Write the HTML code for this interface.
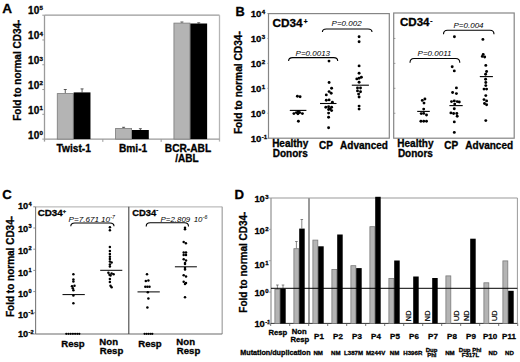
<!DOCTYPE html>
<html><head><meta charset="utf-8"><style>
html,body{margin:0;padding:0;background:#fff;}
svg{display:block;}
text{font-family:"Liberation Sans", sans-serif;}
text[font-weight="bold"]{stroke:#000;stroke-width:0.3px;}
</style></head><body>
<svg width="520" height="362" viewBox="0 0 520 362">
<rect width="520" height="362" fill="#fff"/>
<text x="2.3" y="12.5" font-size="13.6" font-weight="bold" font-style="normal" text-anchor="start" fill="#000" >A</text>
<text transform="translate(21.2,70.2) rotate(-90)" x="0" y="0" font-size="10" font-weight="bold" text-anchor="middle">Fold to normal CD34-</text>
<text x="28.1" y="138.5" font-size="10" font-weight="bold" text-anchor="start">10<tspan font-size="6.2" dx="0.3" dy="-3.6">0</tspan></text>
<line x1="42.30" y1="139.10" x2="44.50" y2="139.10" stroke="#9a9a9a" stroke-width="1"/>
<text x="28.1" y="113.72" font-size="10" font-weight="bold" text-anchor="start">10<tspan font-size="6.2" dx="0.3" dy="-3.6">1</tspan></text>
<line x1="42.30" y1="114.32" x2="44.50" y2="114.32" stroke="#9a9a9a" stroke-width="1"/>
<text x="28.1" y="88.94" font-size="10" font-weight="bold" text-anchor="start">10<tspan font-size="6.2" dx="0.3" dy="-3.6">2</tspan></text>
<line x1="42.30" y1="89.54" x2="44.50" y2="89.54" stroke="#9a9a9a" stroke-width="1"/>
<text x="28.1" y="64.16000000000001" font-size="10" font-weight="bold" text-anchor="start">10<tspan font-size="6.2" dx="0.3" dy="-3.6">3</tspan></text>
<line x1="42.30" y1="64.76" x2="44.50" y2="64.76" stroke="#9a9a9a" stroke-width="1"/>
<text x="28.1" y="39.38" font-size="10" font-weight="bold" text-anchor="start">10<tspan font-size="6.2" dx="0.3" dy="-3.6">4</tspan></text>
<line x1="42.30" y1="39.98" x2="44.50" y2="39.98" stroke="#9a9a9a" stroke-width="1"/>
<text x="28.1" y="13.8" font-size="10" font-weight="bold" text-anchor="start">10<tspan font-size="6.2" dx="0.3" dy="-3.6">5</tspan></text>
<line x1="42.30" y1="15.20" x2="44.50" y2="15.20" stroke="#9a9a9a" stroke-width="1"/>
<line x1="44.50" y1="15.20" x2="219.50" y2="15.20" stroke="#9a9a9a" stroke-width="1.3"/>
<line x1="44.50" y1="15.20" x2="44.50" y2="141.60" stroke="#9a9a9a" stroke-width="1.3"/>
<line x1="219.50" y1="15.20" x2="219.50" y2="141.60" stroke="#b5b5b5" stroke-width="1.3"/>
<line x1="44.50" y1="139.10" x2="219.50" y2="139.10" stroke="#9a9a9a" stroke-width="1.3"/>
<line x1="102.83" y1="139.10" x2="102.83" y2="141.90" stroke="#9a9a9a" stroke-width="1"/>
<line x1="161.17" y1="139.10" x2="161.17" y2="141.90" stroke="#9a9a9a" stroke-width="1"/>
<line x1="65.27" y1="93.20" x2="65.27" y2="89.50" stroke="#333" stroke-width="0.8"/>
<line x1="63.77" y1="89.50" x2="66.77" y2="89.50" stroke="#333" stroke-width="0.8"/>
<line x1="82.07" y1="92.40" x2="82.07" y2="88.90" stroke="#333" stroke-width="0.8"/>
<line x1="80.57" y1="88.90" x2="83.57" y2="88.90" stroke="#333" stroke-width="0.8"/>
<rect x="57.27" y="93.60" width="16.00" height="45.50" fill="#b4b4b4" stroke="#7a7a7a" stroke-width="0.8"/>
<rect x="73.67" y="92.40" width="16.80" height="46.70" fill="#000"/>
<line x1="123.60" y1="128.00" x2="123.60" y2="127.30" stroke="#333" stroke-width="0.8"/>
<line x1="122.10" y1="127.30" x2="125.10" y2="127.30" stroke="#333" stroke-width="0.8"/>
<line x1="140.40" y1="130.00" x2="140.40" y2="128.70" stroke="#333" stroke-width="0.8"/>
<line x1="138.90" y1="128.70" x2="141.90" y2="128.70" stroke="#333" stroke-width="0.8"/>
<rect x="115.60" y="128.40" width="16.00" height="10.70" fill="#b4b4b4" stroke="#7a7a7a" stroke-width="0.8"/>
<rect x="132.00" y="130.00" width="16.80" height="9.10" fill="#000"/>
<line x1="181.93" y1="22.70" x2="181.93" y2="22.00" stroke="#333" stroke-width="0.8"/>
<line x1="180.43" y1="22.00" x2="183.43" y2="22.00" stroke="#333" stroke-width="0.8"/>
<line x1="198.73" y1="23.50" x2="198.73" y2="22.80" stroke="#333" stroke-width="0.8"/>
<line x1="197.23" y1="22.80" x2="200.23" y2="22.80" stroke="#333" stroke-width="0.8"/>
<rect x="173.93" y="23.10" width="16.00" height="116.00" fill="#b4b4b4" stroke="#7a7a7a" stroke-width="0.8"/>
<rect x="190.33" y="23.50" width="16.80" height="115.60" fill="#000"/>
<text x="73.7" y="152.1" font-size="10.2" font-weight="bold" font-style="normal" text-anchor="middle" fill="#000" >Twist-1</text>
<text x="133.1" y="152.1" font-size="10.2" font-weight="bold" font-style="normal" text-anchor="middle" fill="#000" >Bmi-1</text>
<text x="188.0" y="152.0" font-size="10.2" font-weight="bold" font-style="normal" text-anchor="middle" fill="#000" >BCR-ABL</text>
<text x="187.0" y="161.6" font-size="10.0" font-weight="bold" font-style="normal" text-anchor="middle" fill="#000" >/ABL</text>
<text x="235.4" y="15.8" font-size="12.8" font-weight="bold" font-style="normal" text-anchor="start" fill="#000" >B</text>
<text transform="translate(242.3,82.6) rotate(-90)" x="0" y="0" font-size="10.2" font-weight="bold" text-anchor="middle">Fold to normal CD34-</text>
<text x="250.7" y="17.2" font-size="9.6" font-weight="bold" text-anchor="start">10<tspan font-size="6.1" dx="0.3" dy="-3.3">4</tspan></text>
<line x1="267.30" y1="13.50" x2="268.50" y2="13.50" stroke="#858585" stroke-width="0.7"/>
<text x="250.7" y="42.14" font-size="9.6" font-weight="bold" text-anchor="start">10<tspan font-size="6.1" dx="0.3" dy="-3.3">3</tspan></text>
<line x1="267.30" y1="38.44" x2="268.50" y2="38.44" stroke="#858585" stroke-width="0.7"/>
<text x="250.7" y="67.08" font-size="9.6" font-weight="bold" text-anchor="start">10<tspan font-size="6.1" dx="0.3" dy="-3.3">2</tspan></text>
<line x1="267.30" y1="63.38" x2="268.50" y2="63.38" stroke="#858585" stroke-width="0.7"/>
<text x="250.7" y="92.02" font-size="9.6" font-weight="bold" text-anchor="start">10<tspan font-size="6.1" dx="0.3" dy="-3.3">1</tspan></text>
<line x1="267.30" y1="88.32" x2="268.50" y2="88.32" stroke="#858585" stroke-width="0.7"/>
<text x="250.7" y="116.96" font-size="9.6" font-weight="bold" text-anchor="start">10<tspan font-size="6.1" dx="0.3" dy="-3.3">0</tspan></text>
<line x1="267.30" y1="113.26" x2="268.50" y2="113.26" stroke="#858585" stroke-width="0.7"/>
<text x="250.7" y="141.89999999999998" font-size="9.6" font-weight="bold" text-anchor="start">10<tspan font-size="6.1" dx="0.3" dy="-3.3">-1</tspan></text>
<line x1="267.30" y1="138.20" x2="268.50" y2="138.20" stroke="#858585" stroke-width="0.7"/>
<rect x="268.50" y="13.60" width="120.80" height="124.60" fill="none" stroke="#858585" stroke-width="1.2"/>
<rect x="393.70" y="13.00" width="120.50" height="125.20" fill="none" stroke="#858585" stroke-width="1.2"/>
<line x1="393.70" y1="38.44" x2="395.40" y2="38.44" stroke="#858585" stroke-width="0.8"/>
<line x1="393.70" y1="63.38" x2="395.40" y2="63.38" stroke="#858585" stroke-width="0.8"/>
<line x1="393.70" y1="88.32" x2="395.40" y2="88.32" stroke="#858585" stroke-width="0.8"/>
<line x1="393.70" y1="113.26" x2="395.40" y2="113.26" stroke="#858585" stroke-width="0.8"/>
<text x="272.5" y="27.2" font-size="11.8" font-weight="bold">CD34<tspan font-size="6.5" dx="1" dy="-3.2">+</tspan></text>
<text x="399.9" y="25.5" font-size="11.6" font-weight="bold">CD34<tspan font-size="6.5" dx="0.6" dy="-3.0">-</tspan></text>
<text x="331.6" y="25.9" font-size="8.0" font-weight="normal" font-style="italic" text-anchor="start" fill="#000" >P=0.002</text>
<path d="M322.4,32.0 Q322.4,29.0 326.4,29.0 L368.0,29.0 Q372.0,29.0 372.0,32.0" fill="none" stroke="#000" stroke-width="1.1"/>
<text x="295.6" y="56.0" font-size="8.0" font-weight="normal" font-style="italic" text-anchor="start" fill="#000" >P=0.0013</text>
<path d="M288.6,61.0 Q288.6,57.6 292.6,57.6 L333.7,57.6 Q337.7,57.6 337.7,61.0" fill="none" stroke="#000" stroke-width="1.1"/>
<text x="453.5" y="27.5" font-size="8.0" font-weight="normal" font-style="italic" text-anchor="start" fill="#000" >P=0.004</text>
<path d="M443.5,34.2 Q443.5,30.2 447.5,30.2 L490.0,30.2 Q494.0,30.2 494.0,34.2" fill="none" stroke="#000" stroke-width="1.1"/>
<text x="417.6" y="55.7" font-size="8.0" font-weight="normal" font-style="italic" text-anchor="start" fill="#000" >P=0.0011</text>
<path d="M410.0,62.7 Q410.0,58.5 414.0,58.5 L455.8,58.5 Q459.8,58.5 459.8,62.7" fill="none" stroke="#000" stroke-width="1.1"/>
<text x="290.2" y="146.6" font-size="10" font-weight="bold" font-style="normal" text-anchor="middle" fill="#000" >Healthy</text>
<text x="290.2" y="156.5" font-size="10" font-weight="bold" font-style="normal" text-anchor="middle" fill="#000" >Donors</text>
<text x="326.0" y="149.3" font-size="10" font-weight="bold" font-style="normal" text-anchor="middle" fill="#000" >CP</text>
<text x="364.0" y="149.3" font-size="10" font-weight="bold" font-style="normal" text-anchor="middle" fill="#000" >Advanced</text>
<text x="415.4" y="146.6" font-size="10" font-weight="bold" font-style="normal" text-anchor="middle" fill="#000" >Healthy</text>
<text x="415.4" y="156.5" font-size="10" font-weight="bold" font-style="normal" text-anchor="middle" fill="#000" >Donors</text>
<text x="451.2" y="149.3" font-size="10" font-weight="bold" font-style="normal" text-anchor="middle" fill="#000" >CP</text>
<text x="489.2" y="149.3" font-size="10" font-weight="bold" font-style="normal" text-anchor="middle" fill="#000" >Advanced</text>
<circle cx="297.4" cy="96.2" r="1.45" fill="#000"/>
<circle cx="300.1" cy="96.8" r="1.45" fill="#000"/>
<circle cx="293.9" cy="113.6" r="1.45" fill="#000"/>
<circle cx="296.4" cy="112.6" r="1.45" fill="#000"/>
<circle cx="298.4" cy="111.4" r="1.45" fill="#000"/>
<circle cx="299.7" cy="112.6" r="1.45" fill="#000"/>
<circle cx="302.4" cy="113.6" r="1.45" fill="#000"/>
<circle cx="297.9" cy="113.8" r="1.45" fill="#000"/>
<circle cx="298.4" cy="121.3" r="1.45" fill="#000"/>
<circle cx="329.0" cy="61.1" r="1.45" fill="#000"/>
<circle cx="329.1" cy="82.5" r="1.45" fill="#000"/>
<circle cx="331.6" cy="88.3" r="1.45" fill="#000"/>
<circle cx="329.1" cy="91.6" r="1.45" fill="#000"/>
<circle cx="331.2" cy="93.2" r="1.45" fill="#000"/>
<circle cx="326.3" cy="94.9" r="1.45" fill="#000"/>
<circle cx="326.3" cy="100.2" r="1.45" fill="#000"/>
<circle cx="329.1" cy="99.9" r="1.45" fill="#000"/>
<circle cx="332.4" cy="102.3" r="1.45" fill="#000"/>
<circle cx="325.8" cy="107.3" r="1.45" fill="#000"/>
<circle cx="328.6" cy="106.8" r="1.45" fill="#000"/>
<circle cx="331.6" cy="107.3" r="1.45" fill="#000"/>
<circle cx="328.6" cy="109.5" r="1.45" fill="#000"/>
<circle cx="331.6" cy="110.6" r="1.45" fill="#000"/>
<circle cx="330.2" cy="109.0" r="1.45" fill="#000"/>
<circle cx="328.6" cy="113.1" r="1.45" fill="#000"/>
<circle cx="328.6" cy="117.3" r="1.45" fill="#000"/>
<circle cx="328.6" cy="127.7" r="1.45" fill="#000"/>
<circle cx="359.1" cy="36.8" r="1.45" fill="#000"/>
<circle cx="359.1" cy="41.8" r="1.45" fill="#000"/>
<circle cx="359.1" cy="65.9" r="1.45" fill="#000"/>
<circle cx="359.1" cy="73.2" r="1.45" fill="#000"/>
<circle cx="361.4" cy="77.3" r="1.45" fill="#000"/>
<circle cx="356.8" cy="78.9" r="1.45" fill="#000"/>
<circle cx="359.1" cy="78.2" r="1.45" fill="#000"/>
<circle cx="359.1" cy="82.3" r="1.45" fill="#000"/>
<circle cx="357.5" cy="88.0" r="1.45" fill="#000"/>
<circle cx="360.5" cy="88.0" r="1.45" fill="#000"/>
<circle cx="357.5" cy="90.9" r="1.45" fill="#000"/>
<circle cx="360.5" cy="91.8" r="1.45" fill="#000"/>
<circle cx="358.6" cy="94.1" r="1.45" fill="#000"/>
<circle cx="359.1" cy="97.0" r="1.45" fill="#000"/>
<circle cx="359.1" cy="106.1" r="1.45" fill="#000"/>
<circle cx="359.1" cy="109.1" r="1.45" fill="#000"/>
<line x1="289.80" y1="110.40" x2="306.40" y2="110.40" stroke="#000" stroke-width="1.1"/>
<line x1="320.00" y1="103.50" x2="336.50" y2="103.50" stroke="#000" stroke-width="1.1"/>
<line x1="351.80" y1="85.20" x2="368.90" y2="85.20" stroke="#000" stroke-width="1.1"/>
<circle cx="454.4" cy="36.7" r="1.45" fill="#000"/>
<circle cx="482.9" cy="39.4" r="1.45" fill="#000"/>
<circle cx="483.2" cy="54.4" r="1.45" fill="#000"/>
<circle cx="484.7" cy="57.0" r="1.45" fill="#000"/>
<circle cx="482.3" cy="56.4" r="1.45" fill="#000"/>
<circle cx="422.3" cy="100.4" r="1.45" fill="#000"/>
<circle cx="424.9" cy="99.0" r="1.45" fill="#000"/>
<circle cx="424.0" cy="103.1" r="1.45" fill="#000"/>
<circle cx="423.7" cy="109.1" r="1.45" fill="#000"/>
<circle cx="421.2" cy="113.6" r="1.45" fill="#000"/>
<circle cx="423.7" cy="113.4" r="1.45" fill="#000"/>
<circle cx="426.5" cy="115.0" r="1.45" fill="#000"/>
<circle cx="420.9" cy="121.2" r="1.45" fill="#000"/>
<circle cx="423.7" cy="121.2" r="1.45" fill="#000"/>
<circle cx="426.5" cy="121.2" r="1.45" fill="#000"/>
<circle cx="452.2" cy="66.7" r="1.45" fill="#000"/>
<circle cx="454.3" cy="70.9" r="1.45" fill="#000"/>
<circle cx="456.4" cy="87.9" r="1.45" fill="#000"/>
<circle cx="452.6" cy="92.5" r="1.45" fill="#000"/>
<circle cx="456.4" cy="93.6" r="1.45" fill="#000"/>
<circle cx="451.5" cy="101.6" r="1.45" fill="#000"/>
<circle cx="454.3" cy="100.9" r="1.45" fill="#000"/>
<circle cx="457.2" cy="101.6" r="1.45" fill="#000"/>
<circle cx="459.3" cy="102.0" r="1.45" fill="#000"/>
<circle cx="454.7" cy="104.1" r="1.45" fill="#000"/>
<circle cx="454.3" cy="108.7" r="1.45" fill="#000"/>
<circle cx="450.9" cy="112.9" r="1.45" fill="#000"/>
<circle cx="453.6" cy="113.5" r="1.45" fill="#000"/>
<circle cx="456.8" cy="113.5" r="1.45" fill="#000"/>
<circle cx="457.2" cy="116.3" r="1.45" fill="#000"/>
<circle cx="454.3" cy="121.9" r="1.45" fill="#000"/>
<circle cx="454.3" cy="132.4" r="1.45" fill="#000"/>
<circle cx="485.8" cy="65.4" r="1.45" fill="#000"/>
<circle cx="486.6" cy="71.5" r="1.45" fill="#000"/>
<circle cx="485.6" cy="74.2" r="1.45" fill="#000"/>
<circle cx="485.6" cy="79.2" r="1.45" fill="#000"/>
<circle cx="485.8" cy="82.5" r="1.45" fill="#000"/>
<circle cx="485.8" cy="85.6" r="1.45" fill="#000"/>
<circle cx="484.0" cy="89.1" r="1.45" fill="#000"/>
<circle cx="486.6" cy="89.1" r="1.45" fill="#000"/>
<circle cx="485.8" cy="95.6" r="1.45" fill="#000"/>
<circle cx="484.0" cy="99.6" r="1.45" fill="#000"/>
<circle cx="486.6" cy="100.9" r="1.45" fill="#000"/>
<circle cx="484.5" cy="103.5" r="1.45" fill="#000"/>
<circle cx="486.6" cy="104.8" r="1.45" fill="#000"/>
<circle cx="485.8" cy="120.6" r="1.45" fill="#000"/>
<line x1="417.20" y1="111.40" x2="429.80" y2="111.40" stroke="#000" stroke-width="1.1"/>
<line x1="449.40" y1="105.60" x2="462.70" y2="105.60" stroke="#000" stroke-width="1.1"/>
<line x1="479.80" y1="76.60" x2="492.90" y2="76.60" stroke="#000" stroke-width="1.1"/>
<text x="2.2" y="198.8" font-size="13.2" font-weight="bold" font-style="normal" text-anchor="start" fill="#000" >C</text>
<text transform="translate(13.6,266.5) rotate(-90)" x="0" y="0" font-size="10" font-weight="bold" text-anchor="middle">Fold to normal CD34-</text>
<text x="18.0" y="209.15" font-size="9.2" font-weight="bold" text-anchor="start">10<tspan font-size="5.6" dx="0.3" dy="-3.6">4</tspan></text>
<line x1="33.30" y1="206.80" x2="35.50" y2="206.80" stroke="#858585" stroke-width="0.9"/>
<text x="18.0" y="231.55" font-size="9.2" font-weight="bold" text-anchor="start">10<tspan font-size="5.6" dx="0.3" dy="-3.6">3</tspan></text>
<line x1="33.30" y1="228.00" x2="35.50" y2="228.00" stroke="#858585" stroke-width="0.9"/>
<text x="18.0" y="254.0" font-size="9.2" font-weight="bold" text-anchor="start">10<tspan font-size="5.6" dx="0.3" dy="-3.6">2</tspan></text>
<line x1="33.30" y1="249.20" x2="35.50" y2="249.20" stroke="#858585" stroke-width="0.9"/>
<text x="18.0" y="275.90000000000003" font-size="9.2" font-weight="bold" text-anchor="start">10<tspan font-size="5.6" dx="0.3" dy="-3.6">1</tspan></text>
<line x1="33.30" y1="270.40" x2="35.50" y2="270.40" stroke="#858585" stroke-width="0.9"/>
<text x="18.0" y="296.90000000000003" font-size="9.2" font-weight="bold" text-anchor="start">10<tspan font-size="5.6" dx="0.3" dy="-3.6">0</tspan></text>
<line x1="33.30" y1="291.60" x2="35.50" y2="291.60" stroke="#858585" stroke-width="0.9"/>
<text x="18.0" y="317.85" font-size="9.2" font-weight="bold" text-anchor="start">10<tspan font-size="5.6" dx="0.3" dy="-3.6">-1</tspan></text>
<line x1="33.30" y1="312.80" x2="35.50" y2="312.80" stroke="#858585" stroke-width="0.9"/>
<text x="18.0" y="337.45" font-size="9.2" font-weight="bold" text-anchor="start">10<tspan font-size="5.6" dx="0.3" dy="-3.6">-2</tspan></text>
<line x1="33.30" y1="334.00" x2="35.50" y2="334.00" stroke="#858585" stroke-width="0.9"/>
<line x1="35.50" y1="206.80" x2="222.20" y2="206.80" stroke="#bdbdbd" stroke-width="1.2"/>
<line x1="222.20" y1="206.80" x2="222.20" y2="334.00" stroke="#a8a8a8" stroke-width="1.3"/>
<line x1="35.60" y1="206.80" x2="35.60" y2="334.00" stroke="#7a7a7a" stroke-width="1.1"/>
<line x1="35.50" y1="334.00" x2="222.20" y2="334.00" stroke="#6a6a6a" stroke-width="1.1"/>
<line x1="128.80" y1="206.80" x2="128.80" y2="334.00" stroke="#444" stroke-width="1.1"/>
<text x="37.7" y="215.9" font-size="9.8" font-weight="bold">CD34<tspan font-size="5.6" dy="-3.2">+</tspan></text>
<text x="132.2" y="215.6" font-size="9.4" font-weight="bold">CD34<tspan font-size="5.6" dy="-3.4">-</tspan></text>
<text x="68.5" y="222.0" font-size="8.1" font-style="italic">P=7.671<tspan dx="2.6">10</tspan><tspan font-size="5.2" dx="0.4" dy="-2.8">-7</tspan></text>
<path d="M70.8,226.2 Q70.8,223.0 74.8,223.0 L110.0,223.0 Q114.0,223.0 114.0,226.2" fill="none" stroke="#000" stroke-width="1.1"/>
<text x="160.6" y="221.6" font-size="7.9" font-style="italic">P=2.809<tspan dx="3.4">10</tspan><tspan font-size="5.2" dx="0.4" dy="-2.8">-6</tspan></text>
<path d="M146.2,226.4 Q146.2,222.8 150.2,222.8 L184.5,222.8 Q188.5,222.8 188.5,226.4" fill="none" stroke="#000" stroke-width="1.1"/>
<text x="73.0" y="346.6" font-size="9.6" font-weight="bold" font-style="normal" text-anchor="middle" fill="#000" >Resp</text>
<text x="108.7" y="344.6" font-size="9.6" font-weight="bold" font-style="normal" text-anchor="middle" fill="#000" >Non</text>
<text x="111.6" y="354.2" font-size="9.6" font-weight="bold" font-style="normal" text-anchor="middle" fill="#000" >Resp</text>
<text x="150.0" y="346.6" font-size="9.6" font-weight="bold" font-style="normal" text-anchor="middle" fill="#000" >Resp</text>
<text x="185.7" y="344.6" font-size="9.6" font-weight="bold" font-style="normal" text-anchor="middle" fill="#000" >Non</text>
<text x="188.6" y="354.2" font-size="9.6" font-weight="bold" font-style="normal" text-anchor="middle" fill="#000" >Resp</text>
<circle cx="109.9" cy="227.2" r="1.25" fill="#000"/>
<circle cx="109.9" cy="230.3" r="1.25" fill="#000"/>
<circle cx="109.9" cy="246.9" r="1.25" fill="#000"/>
<circle cx="109.9" cy="251.0" r="1.25" fill="#000"/>
<circle cx="109.9" cy="254.1" r="1.25" fill="#000"/>
<circle cx="109.9" cy="256.8" r="1.25" fill="#000"/>
<circle cx="109.9" cy="258.9" r="1.25" fill="#000"/>
<circle cx="111.6" cy="262.4" r="1.25" fill="#000"/>
<circle cx="109.9" cy="261.4" r="1.25" fill="#000"/>
<circle cx="109.9" cy="264.5" r="1.25" fill="#000"/>
<circle cx="109.9" cy="266.6" r="1.25" fill="#000"/>
<circle cx="108.4" cy="272.8" r="1.25" fill="#000"/>
<circle cx="111.6" cy="273.4" r="1.25" fill="#000"/>
<circle cx="109.5" cy="274.8" r="1.25" fill="#000"/>
<circle cx="113.6" cy="274.2" r="1.25" fill="#000"/>
<circle cx="110.5" cy="275.5" r="1.25" fill="#000"/>
<circle cx="109.9" cy="279.0" r="1.25" fill="#000"/>
<circle cx="109.9" cy="282.1" r="1.25" fill="#000"/>
<circle cx="110.5" cy="285.8" r="1.25" fill="#000"/>
<circle cx="111.6" cy="287.2" r="1.25" fill="#000"/>
<circle cx="73.4" cy="274.3" r="1.25" fill="#000"/>
<circle cx="73.4" cy="279.5" r="1.25" fill="#000"/>
<circle cx="73.4" cy="281.6" r="1.25" fill="#000"/>
<circle cx="72.0" cy="286.3" r="1.25" fill="#000"/>
<circle cx="74.5" cy="285.7" r="1.25" fill="#000"/>
<circle cx="72.8" cy="288.2" r="1.25" fill="#000"/>
<circle cx="73.4" cy="290.2" r="1.25" fill="#000"/>
<circle cx="73.4" cy="295.4" r="1.25" fill="#000"/>
<circle cx="73.4" cy="303.3" r="1.25" fill="#000"/>
<circle cx="66.3" cy="333.8" r="1.15" fill="#000"/>
<circle cx="68.5" cy="333.8" r="1.15" fill="#000"/>
<circle cx="70.7" cy="333.8" r="1.15" fill="#000"/>
<circle cx="72.9" cy="333.8" r="1.15" fill="#000"/>
<circle cx="75.1" cy="333.8" r="1.15" fill="#000"/>
<circle cx="77.3" cy="333.8" r="1.15" fill="#000"/>
<circle cx="79.3" cy="333.8" r="1.15" fill="#000"/>
<line x1="62.50" y1="294.60" x2="84.80" y2="294.60" stroke="#000" stroke-width="1.0"/>
<line x1="100.20" y1="270.30" x2="122.30" y2="270.30" stroke="#000" stroke-width="1.0"/>
<circle cx="185.0" cy="227.7" r="1.25" fill="#000"/>
<circle cx="185.0" cy="229.3" r="1.25" fill="#000"/>
<circle cx="183.7" cy="242.0" r="1.25" fill="#000"/>
<circle cx="185.9" cy="243.2" r="1.25" fill="#000"/>
<circle cx="183.7" cy="252.6" r="1.25" fill="#000"/>
<circle cx="186.0" cy="252.6" r="1.25" fill="#000"/>
<circle cx="183.7" cy="254.9" r="1.25" fill="#000"/>
<circle cx="186.0" cy="254.9" r="1.25" fill="#000"/>
<circle cx="183.7" cy="259.3" r="1.25" fill="#000"/>
<circle cx="186.0" cy="260.4" r="1.25" fill="#000"/>
<circle cx="185.0" cy="263.0" r="1.25" fill="#000"/>
<circle cx="185.0" cy="264.1" r="1.25" fill="#000"/>
<circle cx="185.0" cy="268.1" r="1.25" fill="#000"/>
<circle cx="185.0" cy="269.6" r="1.25" fill="#000"/>
<circle cx="183.7" cy="275.2" r="1.25" fill="#000"/>
<circle cx="186.0" cy="276.5" r="1.25" fill="#000"/>
<circle cx="183.7" cy="281.8" r="1.25" fill="#000"/>
<circle cx="186.0" cy="282.9" r="1.25" fill="#000"/>
<circle cx="185.0" cy="284.0" r="1.25" fill="#000"/>
<circle cx="185.0" cy="297.2" r="1.25" fill="#000"/>
<circle cx="147.0" cy="274.3" r="1.25" fill="#000"/>
<circle cx="145.8" cy="281.1" r="1.25" fill="#000"/>
<circle cx="148.4" cy="280.5" r="1.25" fill="#000"/>
<circle cx="145.3" cy="286.7" r="1.25" fill="#000"/>
<circle cx="147.4" cy="286.7" r="1.25" fill="#000"/>
<circle cx="149.5" cy="286.7" r="1.25" fill="#000"/>
<circle cx="147.8" cy="292.3" r="1.25" fill="#000"/>
<circle cx="148.4" cy="298.5" r="1.25" fill="#000"/>
<circle cx="147.4" cy="307.4" r="1.25" fill="#000"/>
<circle cx="144.6" cy="333.8" r="1.15" fill="#000"/>
<circle cx="146.6" cy="333.8" r="1.15" fill="#000"/>
<circle cx="148.6" cy="333.8" r="1.15" fill="#000"/>
<circle cx="150.6" cy="333.8" r="1.15" fill="#000"/>
<circle cx="152.3" cy="333.8" r="1.15" fill="#000"/>
<line x1="137.50" y1="291.90" x2="159.80" y2="291.90" stroke="#000" stroke-width="1.0"/>
<line x1="174.90" y1="266.80" x2="196.90" y2="266.80" stroke="#000" stroke-width="1.0"/>
<text x="234.4" y="198.5" font-size="13.2" font-weight="bold" font-style="normal" text-anchor="start" fill="#000" >D</text>
<text transform="translate(246.6,262.1) rotate(-90)" x="0" y="0" font-size="10" font-weight="bold" text-anchor="middle">Fold to normal CD34-</text>
<text x="254.4" y="201.8" font-size="9.4" font-weight="bold" text-anchor="start">10<tspan font-size="6.0" dx="0.3" dy="-3.1">3</tspan></text>
<line x1="268.80" y1="198.00" x2="271.00" y2="198.00" stroke="#9a9a9a" stroke-width="0.9"/>
<text x="254.4" y="233.95000000000002" font-size="9.4" font-weight="bold" text-anchor="start">10<tspan font-size="6.0" dx="0.3" dy="-3.1">2</tspan></text>
<line x1="268.80" y1="229.35" x2="271.00" y2="229.35" stroke="#9a9a9a" stroke-width="0.9"/>
<text x="254.4" y="267.8" font-size="9.4" font-weight="bold" text-anchor="start">10<tspan font-size="6.0" dx="0.3" dy="-3.1">1</tspan></text>
<line x1="268.80" y1="260.70" x2="271.00" y2="260.70" stroke="#9a9a9a" stroke-width="0.9"/>
<text x="254.4" y="295.84999999999997" font-size="9.4" font-weight="bold" text-anchor="start">10<tspan font-size="6.0" dx="0.3" dy="-3.1">0</tspan></text>
<line x1="268.80" y1="292.05" x2="271.00" y2="292.05" stroke="#9a9a9a" stroke-width="0.9"/>
<text x="254.4" y="327.2" font-size="9.4" font-weight="bold" text-anchor="start">10<tspan font-size="6.0" dx="0.3" dy="-3.1">-1</tspan></text>
<line x1="268.80" y1="323.40" x2="271.00" y2="323.40" stroke="#9a9a9a" stroke-width="0.9"/>
<line x1="271.00" y1="198.00" x2="517.40" y2="198.00" stroke="#9a9a9a" stroke-width="1.2"/>
<line x1="517.40" y1="198.00" x2="517.40" y2="323.40" stroke="#9a9a9a" stroke-width="1.0"/>
<line x1="271.00" y1="198.00" x2="271.00" y2="323.40" stroke="#9a9a9a" stroke-width="1.3"/>
<line x1="309.00" y1="198.00" x2="309.00" y2="323.40" stroke="#9a9a9a" stroke-width="2.0"/>
<line x1="271.00" y1="323.40" x2="517.40" y2="323.40" stroke="#333" stroke-width="1.0"/>
<line x1="270.70" y1="323.40" x2="270.70" y2="326.00" stroke="#555" stroke-width="0.8"/>
<line x1="289.70" y1="323.40" x2="289.70" y2="326.00" stroke="#555" stroke-width="0.8"/>
<line x1="308.70" y1="323.40" x2="308.70" y2="326.00" stroke="#555" stroke-width="0.8"/>
<line x1="327.70" y1="323.40" x2="327.70" y2="326.00" stroke="#555" stroke-width="0.8"/>
<line x1="346.70" y1="323.40" x2="346.70" y2="326.00" stroke="#555" stroke-width="0.8"/>
<line x1="365.70" y1="323.40" x2="365.70" y2="326.00" stroke="#555" stroke-width="0.8"/>
<line x1="384.70" y1="323.40" x2="384.70" y2="326.00" stroke="#555" stroke-width="0.8"/>
<line x1="403.70" y1="323.40" x2="403.70" y2="326.00" stroke="#555" stroke-width="0.8"/>
<line x1="422.70" y1="323.40" x2="422.70" y2="326.00" stroke="#555" stroke-width="0.8"/>
<line x1="441.70" y1="323.40" x2="441.70" y2="326.00" stroke="#555" stroke-width="0.8"/>
<line x1="460.70" y1="323.40" x2="460.70" y2="326.00" stroke="#555" stroke-width="0.8"/>
<line x1="479.70" y1="323.40" x2="479.70" y2="326.00" stroke="#555" stroke-width="0.8"/>
<line x1="498.70" y1="323.40" x2="498.70" y2="326.00" stroke="#555" stroke-width="0.8"/>
<line x1="517.70" y1="323.40" x2="517.70" y2="326.00" stroke="#555" stroke-width="0.8"/>
<rect x="274.90" y="289.40" width="4.90" height="34.00" fill="#b4b4b4" stroke="#7a7a7a" stroke-width="0.8"/>
<rect x="280.20" y="288.60" width="5.50" height="34.80" fill="#000"/>
<rect x="293.90" y="248.70" width="4.90" height="74.70" fill="#b4b4b4" stroke="#7a7a7a" stroke-width="0.8"/>
<rect x="299.20" y="228.60" width="5.50" height="94.80" fill="#000"/>
<rect x="312.90" y="240.10" width="4.90" height="83.30" fill="#b4b4b4" stroke="#7a7a7a" stroke-width="0.8"/>
<rect x="318.20" y="246.30" width="5.50" height="77.10" fill="#000"/>
<rect x="331.90" y="269.40" width="4.90" height="54.00" fill="#b4b4b4" stroke="#7a7a7a" stroke-width="0.8"/>
<rect x="337.20" y="234.50" width="5.50" height="88.90" fill="#000"/>
<rect x="350.90" y="265.70" width="4.90" height="57.70" fill="#b4b4b4" stroke="#7a7a7a" stroke-width="0.8"/>
<rect x="356.20" y="268.10" width="5.50" height="55.30" fill="#000"/>
<rect x="369.90" y="226.70" width="4.90" height="96.70" fill="#b4b4b4" stroke="#7a7a7a" stroke-width="0.8"/>
<rect x="375.20" y="196.80" width="5.50" height="126.60" fill="#000"/>
<rect x="388.90" y="278.40" width="4.90" height="45.00" fill="#b4b4b4" stroke="#7a7a7a" stroke-width="0.8"/>
<rect x="394.20" y="260.50" width="5.50" height="62.90" fill="#000"/>
<rect x="413.20" y="276.50" width="5.50" height="46.90" fill="#000"/>
<rect x="432.20" y="278.00" width="5.50" height="45.40" fill="#000"/>
<rect x="445.90" y="275.90" width="4.90" height="47.50" fill="#b4b4b4" stroke="#7a7a7a" stroke-width="0.8"/>
<rect x="470.20" y="238.70" width="5.50" height="84.70" fill="#000"/>
<rect x="483.90" y="282.80" width="4.90" height="40.60" fill="#b4b4b4" stroke="#7a7a7a" stroke-width="0.8"/>
<rect x="502.90" y="260.90" width="4.90" height="62.50" fill="#b4b4b4" stroke="#7a7a7a" stroke-width="0.8"/>
<rect x="508.20" y="290.80" width="5.50" height="32.60" fill="#000"/>
<line x1="277.40" y1="289.00" x2="277.40" y2="285.00" stroke="#555" stroke-width="0.7"/>
<line x1="276.10" y1="285.00" x2="278.70" y2="285.00" stroke="#555" stroke-width="0.7"/>
<line x1="283.00" y1="288.60" x2="283.00" y2="285.00" stroke="#555" stroke-width="0.7"/>
<line x1="281.70" y1="285.00" x2="284.30" y2="285.00" stroke="#555" stroke-width="0.7"/>
<line x1="296.40" y1="248.30" x2="296.40" y2="241.50" stroke="#555" stroke-width="0.7"/>
<line x1="295.10" y1="241.50" x2="297.70" y2="241.50" stroke="#555" stroke-width="0.7"/>
<line x1="301.80" y1="228.60" x2="301.80" y2="219.50" stroke="#555" stroke-width="0.7"/>
<line x1="300.50" y1="219.50" x2="303.10" y2="219.50" stroke="#555" stroke-width="0.7"/>
<line x1="271.00" y1="288.30" x2="517.40" y2="288.30" stroke="#000" stroke-width="1.0"/>
<text transform="translate(410.9,321.2) rotate(-90)" font-size="7.4" text-anchor="start" fill="#000" style="stroke:#000;stroke-width:0.2px">ND</text>
<text transform="translate(429.5,321.2) rotate(-90)" font-size="7.4" text-anchor="start" fill="#000" style="stroke:#000;stroke-width:0.2px">ND</text>
<text transform="translate(458.8,321.0) rotate(-90)" font-size="7.4" text-anchor="start" fill="#000" style="stroke:#000;stroke-width:0.2px">UD</text>
<text transform="translate(468.5,321.0) rotate(-90)" font-size="7.4" text-anchor="start" fill="#000" style="stroke:#000;stroke-width:0.2px">ND</text>
<text transform="translate(496.5,321.0) rotate(-90)" font-size="7.4" text-anchor="start" fill="#000" style="stroke:#000;stroke-width:0.2px">UD</text>
<text x="277.8" y="335.2" font-size="7.7" font-weight="bold" font-style="normal" text-anchor="middle" fill="#000" >Resp</text>
<text x="299.3" y="334.2" font-size="7.7" font-weight="bold" font-style="normal" text-anchor="middle" fill="#000" >Non</text>
<text x="299.8" y="341.6" font-size="7.7" font-weight="bold" font-style="normal" text-anchor="middle" fill="#000" >Resp</text>
<text x="319.0" y="339.4" font-size="8.0" font-weight="bold" font-style="normal" text-anchor="middle" fill="#000" >P1</text>
<text x="338.0" y="339.4" font-size="8.0" font-weight="bold" font-style="normal" text-anchor="middle" fill="#000" >P2</text>
<text x="357.0" y="339.4" font-size="8.0" font-weight="bold" font-style="normal" text-anchor="middle" fill="#000" >P3</text>
<text x="376.0" y="339.4" font-size="8.0" font-weight="bold" font-style="normal" text-anchor="middle" fill="#000" >P4</text>
<text x="395.0" y="339.4" font-size="8.0" font-weight="bold" font-style="normal" text-anchor="middle" fill="#000" >P5</text>
<text x="414.0" y="339.4" font-size="8.0" font-weight="bold" font-style="normal" text-anchor="middle" fill="#000" >P6</text>
<text x="433.0" y="339.4" font-size="8.0" font-weight="bold" font-style="normal" text-anchor="middle" fill="#000" >P7</text>
<text x="452.0" y="339.4" font-size="8.0" font-weight="bold" font-style="normal" text-anchor="middle" fill="#000" >P8</text>
<text x="471.0" y="339.4" font-size="8.0" font-weight="bold" font-style="normal" text-anchor="middle" fill="#000" >P9</text>
<text x="490.0" y="339.4" font-size="8.0" font-weight="bold" font-style="normal" text-anchor="middle" fill="#000" >P10</text>
<text x="509.0" y="339.4" font-size="8.0" font-weight="bold" font-style="normal" text-anchor="middle" fill="#000" >P11</text>
<text x="240.3" y="354.7" font-size="7.2" font-weight="bold" font-style="normal" text-anchor="start" fill="#000" >Mutation/duplication</text>
<text x="318.2" y="355.4" font-size="6.1" font-weight="bold" font-style="normal" text-anchor="middle" fill="#000" >NM</text>
<text x="335.8" y="355.4" font-size="6.1" font-weight="bold" font-style="normal" text-anchor="middle" fill="#000" >NM</text>
<text x="353.5" y="355.4" font-size="6.1" font-weight="bold" font-style="normal" text-anchor="middle" fill="#000" >L387M</text>
<text x="375.6" y="355.4" font-size="6.1" font-weight="bold" font-style="normal" text-anchor="middle" fill="#000" >M244V</text>
<text x="394.6" y="355.4" font-size="6.1" font-weight="bold" font-style="normal" text-anchor="middle" fill="#000" >NM</text>
<text x="412.8" y="355.4" font-size="6.1" font-weight="bold" font-style="normal" text-anchor="middle" fill="#000" >H396R</text>
<text x="449.9" y="355.4" font-size="6.1" font-weight="bold" font-style="normal" text-anchor="middle" fill="#000" >NM</text>
<text x="493.0" y="355.4" font-size="6.1" font-weight="bold" font-style="normal" text-anchor="middle" fill="#000" >ND</text>
<text x="509.5" y="355.4" font-size="6.1" font-weight="bold" font-style="normal" text-anchor="middle" fill="#000" >ND</text>
<text x="431.6" y="351.6" font-size="6.0" font-weight="bold" font-style="normal" text-anchor="middle" fill="#000" >Dup</text>
<text x="431.8" y="357.4" font-size="6.0" font-weight="bold" font-style="normal" text-anchor="middle" fill="#000" >Phi</text>
<text x="470.2" y="351.6" font-size="6.0" font-weight="bold" font-style="normal" text-anchor="middle" fill="#000" >Dup Phi</text>
<text x="470.4" y="357.4" font-size="6.0" font-weight="bold" font-style="normal" text-anchor="middle" fill="#000" >F317L</text>
</svg>
</body></html>
